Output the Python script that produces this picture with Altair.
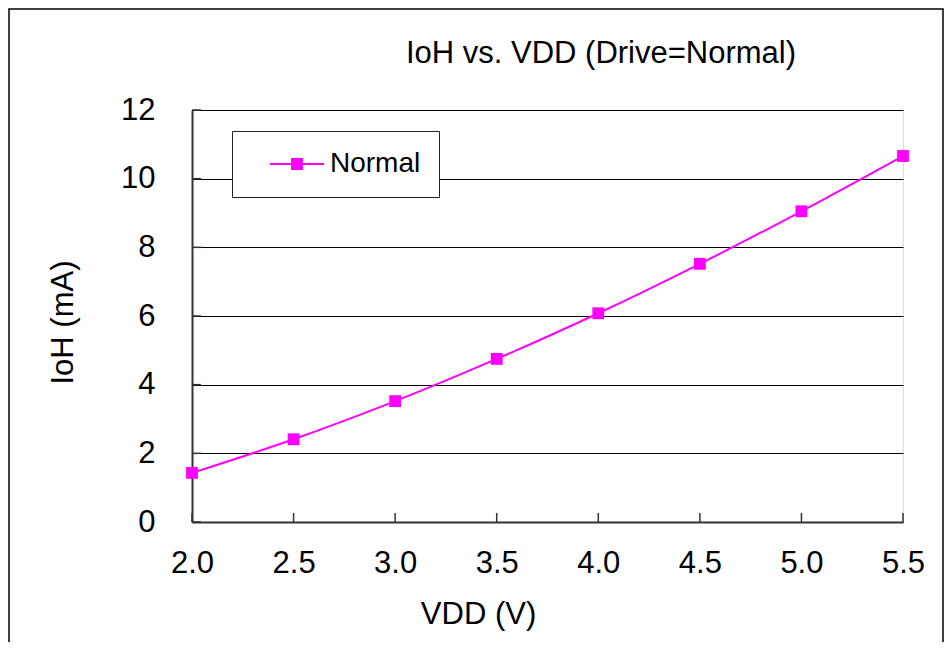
import altair as alt
import pandas as pd

vdd = [2.0, 2.5, 3.0, 3.5, 4.0, 4.5, 5.0, 5.5]
ioh = [1.43, 2.41, 3.52, 4.75, 6.08, 7.52, 9.05, 10.66]
series = ["Normal"] * len(vdd)
x_ticks = [2.0, 2.5, 3.0, 3.5, 4.0, 4.5, 5.0, 5.5]
y_ticks = [0, 2, 4, 6, 8, 10, 12]
title_text = "IoH vs. VDD (Drive=Normal)"

FONT = "Arial, Liberation Sans, sans-serif"
MAG = "#FF00FF"
W, H = 711, 412
FS = 31

df = pd.DataFrame({"VDD": vdd, "IoH": ioh, "Series": series})
xt = pd.DataFrame({"t": x_ticks})
yt = pd.DataFrame({"t": y_ticks})

xscale = alt.Scale(domain=[2.0, 5.5], nice=False, zero=False)
yscale = alt.Scale(domain=[0, 12], nice=False)

xaxis = alt.Axis(values=x_ticks, format=".1f", grid=False, ticks=False, tickSize=0,
                 labelPadding=50, labelBaseline="alphabetic", labelFontSize=FS,
                 labelFlush=False, labelOverlap=False,
                 title="VDD (V)", titleX=286, titleY=101, titleBaseline="alphabetic",
                 titleAlign="center", titleFontSize=FS, titleFontWeight="normal",
                 domainColor="#333333", domainWidth=2, labelColor="black", titleColor="black",
                 labelFont=FONT, titleFont=FONT)
yaxis = alt.Axis(values=y_ticks, grid=True, gridColor="#000000", gridWidth=1,
                 ticks=False, tickSize=0, labelPadding=37, labelFontSize=FS,
                 labelFlush=False, labelOverlap=False,
                 title="IoH (mA)", titleX=-120, titleY=212, titleAngle=-90,
                 titleBaseline="alphabetic", titleAlign="center", titleFontSize=FS,
                 titleFontWeight="normal", domainColor="#333333", domainWidth=2,
                 labelColor="black", titleColor="black", labelFont=FONT, titleFont=FONT)

line = alt.Chart(df).mark_line(color=MAG, strokeWidth=2, interpolate="monotone").encode(
    x=alt.X("VDD:Q", scale=xscale, axis=xaxis),
    y=alt.Y("IoH:Q", scale=yscale, axis=yaxis),
)

sym_path = "M-1,-0.04H1V0.04H-1Z M-0.22,-0.22H0.22V0.22H-0.22Z"
pts = alt.Chart(df).mark_square(size=140, opacity=1, filled=True).encode(
    x=alt.X("VDD:Q", scale=xscale),
    y=alt.Y("IoH:Q", scale=yscale),
    color=alt.Color("Series:N", scale=alt.Scale(domain=["Normal"], range=[MAG]),
                    legend=alt.Legend(title=None, orient="none", legendX=40, legendY=21,
                                      symbolType=sym_path, symbolSize=2916,
                                      symbolStrokeWidth=0, clipHeight=30,
                                      padding=18, symbolOffset=20, labelOffset=6,
                                      labelFontSize=28, labelFont=FONT, labelColor="black",
                                      labelExpr="datum.label + '\u2002'",
                                      strokeColor="#222222", fillColor="white")),
)

xtick_marks = alt.Chart(xt).mark_rule(color="#333333", strokeWidth=1.5).encode(
    x=alt.X("t:Q", scale=xscale), y=alt.value(H), y2=alt.value(H - 9))
ytick_marks = alt.Chart(yt).mark_rule(color="#333333", strokeWidth=1.5).encode(
    y=alt.Y("t:Q", scale=yscale), x=alt.value(0), x2=alt.value(9))

one = alt.Data(values=[{"a": 1}])
frame = alt.Chart(one).mark_rect(filled=False, stroke="#000000", strokeWidth=1.5, clip=False).encode(
    x=alt.value(-183), x2=alt.value(751), y=alt.value(-101), y2=alt.value(700))
title = alt.Chart(alt.Data(values=[{"t": title_text}])).mark_text(
    font=FONT, fontSize=FS, color="black", align="center", baseline="alphabetic").encode(
    text="t:N", x=alt.value(409), y=alt.value(-47))

chart = alt.layer(frame, line, pts, xtick_marks, ytick_marks, title).properties(
    width=W, height=H,
    padding={"left": 184, "top": 102, "right": 41, "bottom": 120},
    autosize=alt.AutoSizeParams(type="none"),
).configure_view(stroke="#888888", strokeWidth=2).configure(background="white")

chart.save("out.html", embed_options={"renderer": "svg", "actions": False})
